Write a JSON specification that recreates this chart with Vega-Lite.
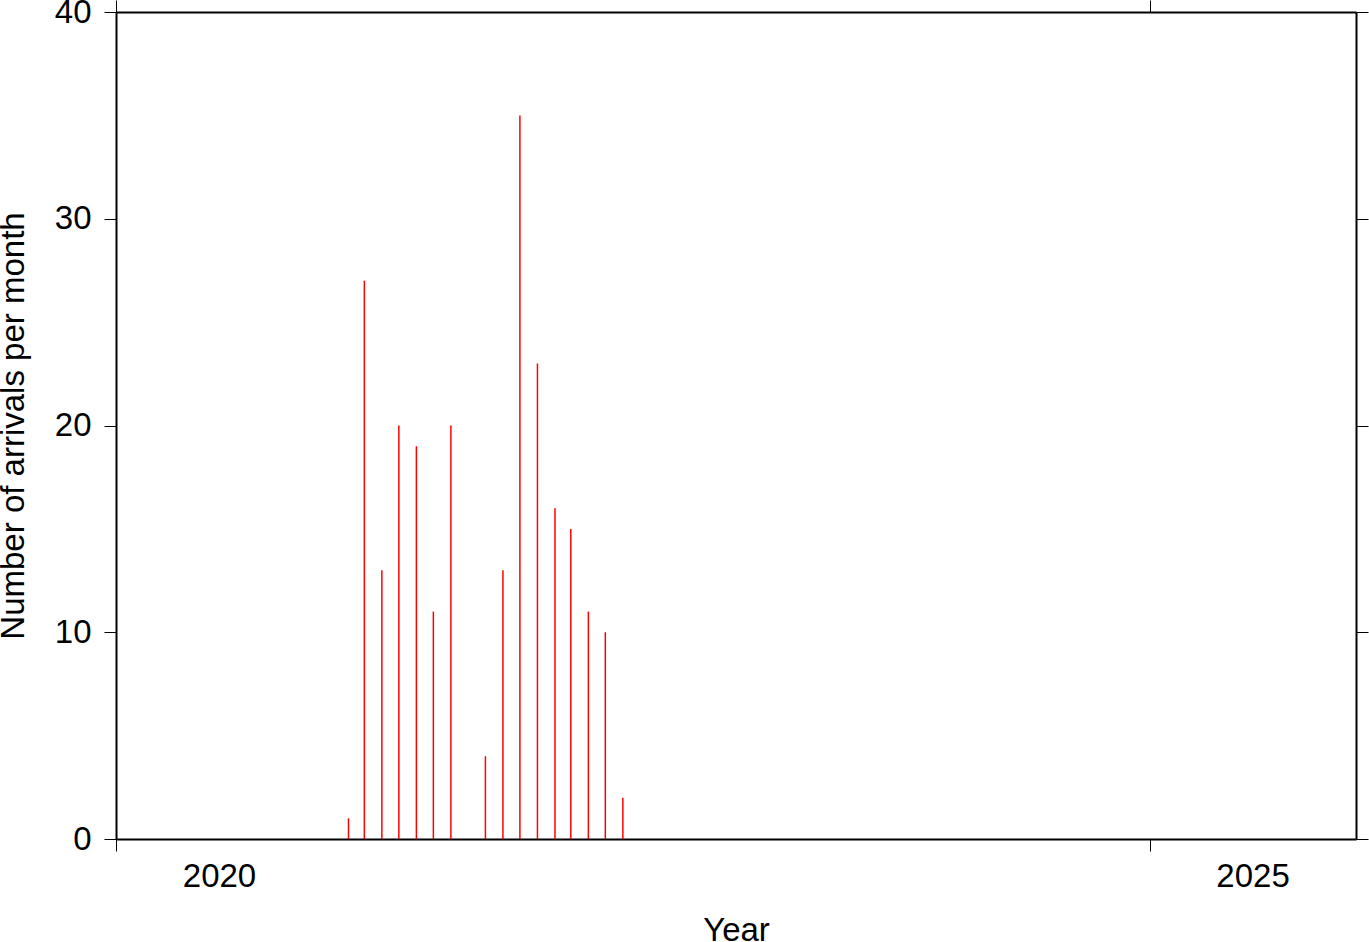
{
  "$schema": "https://vega.github.io/schema/vega-lite/v6.json",
  "width": 1240,
  "height": 827,
  "autosize": {"type": "none"},
  "padding": {"left": 116, "top": 12, "right": 13, "bottom": 103},
  "background": "white",
  "config": {
    "view": {"stroke": null},
    "axis": {
      "labelFont": "Liberation Sans",
      "labelFontSize": 33,
      "labelColor": "black",
      "titleFont": "Liberation Sans",
      "titleFontSize": 33,
      "titleFontWeight": "normal",
      "titleColor": "black",
      "domainColor": "black",
      "domainWidth": 2,
      "tickColor": "black",
      "tickWidth": 1,
      "tickSize": 12,
      "grid": false
    }
  },
  "data": {
    "values": [
      {"month": "2021-02-15", "arrivals": 1},
      {"month": "2021-03-15", "arrivals": 27},
      {"month": "2021-04-15", "arrivals": 13},
      {"month": "2021-05-15", "arrivals": 20},
      {"month": "2021-06-15", "arrivals": 19},
      {"month": "2021-07-15", "arrivals": 11},
      {"month": "2021-08-15", "arrivals": 20},
      {"month": "2021-10-15", "arrivals": 4},
      {"month": "2021-11-15", "arrivals": 13},
      {"month": "2021-12-15", "arrivals": 35},
      {"month": "2022-01-15", "arrivals": 23},
      {"month": "2022-02-15", "arrivals": 16},
      {"month": "2022-03-15", "arrivals": 15},
      {"month": "2022-04-15", "arrivals": 11},
      {"month": "2022-05-15", "arrivals": 10},
      {"month": "2022-06-15", "arrivals": 2}
    ]
  },
  "layer": [
    {
      "mark": {"type": "rule", "color": "#ff0000", "strokeWidth": 1.5},
      "encoding": {
        "x": {
          "field": "month",
          "type": "temporal",
          "scale": {
            "type": "utc",
            "domain": [
              {"year": 2020, "month": 1, "date": 1, "utc": true},
              {"year": 2026, "month": 1, "date": 1, "utc": true}
            ],
            "nice": false
          },
          "axis": {
            "orient": "bottom",
            "title": "Year",
            "values": [
              {"year": 2020, "month": 1, "date": 1, "utc": true},
              {"year": 2025, "month": 1, "date": 1, "utc": true}
            ],
            "format": "%Y",
            "formatType": "utc",
            "labelOffset": 103,
            "labelPadding": 9,
            "titlePadding": 21,
            "labelFlush": false,
            "labelOverlap": false
          }
        },
        "y": {
          "field": "arrivals",
          "type": "quantitative",
          "scale": {"domain": [0, 40], "nice": false},
          "axis": {
            "orient": "left",
            "title": "Number of arrivals per month",
            "values": [0, 10, 20, 30, 40],
            "labelPadding": 13,
            "titlePadding": 24
          }
        },
        "y2": {"datum": 0}
      }
    },
    {
      "mark": {"type": "rule", "opacity": 0},
      "encoding": {
        "x": {
          "field": "month",
          "type": "temporal",
          "axis": {
            "orient": "top",
            "title": null,
            "labels": false,
            "values": [
              {"year": 2020, "month": 1, "date": 1, "utc": true},
              {"year": 2025, "month": 1, "date": 1, "utc": true}
            ]
          }
        },
        "y": {
          "field": "arrivals",
          "type": "quantitative",
          "axis": {
            "orient": "right",
            "title": null,
            "labels": false,
            "values": [0, 10, 20, 30, 40]
          }
        }
      }
    }
  ],
  "resolve": {"axis": {"x": "independent", "y": "independent"}}
}
